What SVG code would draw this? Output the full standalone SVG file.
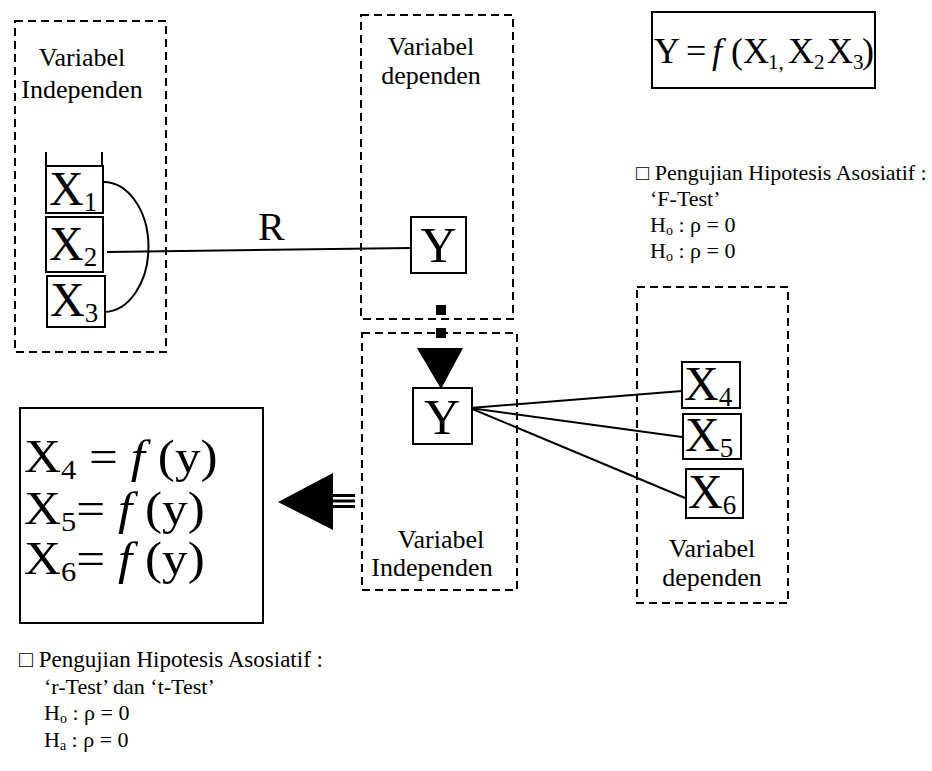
<svg xmlns="http://www.w3.org/2000/svg" width="932" height="771" viewBox="0 0 932 771">
<style>
text{font-family:"Liberation Serif","Times New Roman",serif;fill:#000}
.lbl{font-size:26px;text-anchor:middle}
.big{font-size:48px}
.sub{font-size:27px}
.note{font-size:22px}
.dash{fill:none;stroke:#000;stroke-width:2;stroke-dasharray:8 5}
.box{fill:#fff;stroke:#000;stroke-width:2}
.ln{fill:none;stroke:#000;stroke-width:2}
</style>
<rect width="932" height="771" fill="#fff"/>

<g id="group-independen-left">
<rect class="dash" x="15" y="21" width="151" height="331"/>
<text class="lbl" x="82" y="66">Variabel</text>
<text class="lbl" x="82" y="98">Independen</text>
</g>

<g id="group-dependen-top">
<rect class="dash" x="361" y="15" width="152" height="304"/>
<text class="lbl" x="431" y="55">Variabel</text>
<text class="lbl" x="431" y="84">dependen</text>
</g>

<g id="group-independen-mid">
<rect class="dash" x="362" y="333" width="155" height="257"/>
<text class="lbl" x="441" y="548">Variabel</text>
<text class="lbl" x="432" y="576">Independen</text>
</g>

<g id="group-dependen-right">
<rect class="dash" x="637" y="287" width="151" height="316"/>
<text class="lbl" x="712" y="557">Variabel</text>
<text class="lbl" x="712" y="586">dependen</text>
</g>

<g id="connectors">
<path class="ln" d="M103,182 A45,65 0 0 1 104,312"/>
<line class="ln" x1="107" y1="252" x2="411" y2="248"/>
<text x="258" y="240" style="font-size:40px">R</text>
<rect x="436" y="305" width="10" height="10"/>
<rect x="436" y="328" width="10" height="10"/>
<polygon points="417,348 463,348 441,389"/>
<line class="ln" x1="470" y1="408" x2="682" y2="391"/>
<line class="ln" x1="470" y1="408" x2="682" y2="437"/>
<line class="ln" x1="470" y1="408" x2="685" y2="498"/>
<polygon points="278,502 333,473 333,530"/>
<rect x="333" y="494" width="22" height="3"/>
<rect x="333" y="499.5" width="22" height="3"/>
<rect x="333" y="505" width="22" height="3"/>
</g>

<g id="node-x1">
<line class="ln" x1="46" y1="152" x2="46" y2="166"/>
<line class="ln" x1="102" y1="152" x2="102" y2="166"/>
<rect class="box" x="46" y="166" width="57" height="47"/>
<text class="big" x="49" y="205">X<tspan class="sub" dy="6">1</tspan></text>
</g>
<g id="node-x2">
<rect class="box" x="46" y="217" width="57" height="55"/>
<text class="big" x="49" y="260">X<tspan class="sub" dy="6">2</tspan></text>
</g>
<g id="node-x3">
<rect class="box" x="47" y="276" width="58" height="51"/>
<text class="big" x="50" y="316">X<tspan class="sub" dy="6">3</tspan></text>
</g>

<g id="node-y-top">
<rect class="box" x="411" y="217" width="55" height="56"/>
<text class="big" x="438.5" y="262" text-anchor="middle" style="font-size:50px">Y</text>
</g>

<g id="node-y-mid">
<rect class="box" x="413" y="388" width="59" height="56"/>
<text class="big" x="442" y="434" text-anchor="middle" style="font-size:50px">Y</text>
</g>

<g id="node-x4">
<rect class="box" x="682" y="362" width="58" height="46"/>
<text class="big" x="684" y="400">X<tspan class="sub" dy="6">4</tspan></text>
</g>
<g id="node-x5">
<rect class="box" x="683" y="414" width="58" height="45"/>
<text class="big" x="685" y="451">X<tspan class="sub" dy="6">5</tspan></text>
</g>
<g id="node-x6">
<rect class="box" x="686" y="469" width="57" height="49"/>
<text class="big" x="688" y="508">X<tspan class="sub" dy="6">6</tspan></text>
</g>

<g id="eq-top">
<rect class="box" x="652" y="12" width="223" height="76"/>
<text y="63" style="font-size:36px"><tspan x="654">Y</tspan><tspan x="686">=</tspan><tspan x="712" font-style="italic">f</tspan><tspan x="731">(X</tspan><tspan x="768" dy="6" style="font-size:21px">1,</tspan><tspan x="788" dy="-6">X</tspan><tspan x="814" dy="6" style="font-size:21px">2</tspan><tspan x="827" dy="-6">X</tspan><tspan x="853" dy="6" style="font-size:21px">3</tspan><tspan x="862" dy="-6">)</tspan></text>
</g>

<g id="eq-bottom">
<rect class="box" x="20" y="408" width="243" height="215"/>
<text transform="translate(24,472) scale(1.09,1)" style="font-size:47px">X<tspan style="font-size:28px" dy="7">4</tspan><tspan dy="-7"> = </tspan><tspan font-style="italic">f</tspan> (y)</text>
<text transform="translate(24,524) scale(1.09,1)" style="font-size:47px">X<tspan style="font-size:28px" dy="7">5</tspan><tspan dy="-7">= </tspan><tspan font-style="italic">f</tspan> (y)</text>
<text transform="translate(24,574) scale(1.09,1)" style="font-size:47px">X<tspan style="font-size:28px" dy="7">6</tspan><tspan dy="-7">= </tspan><tspan font-style="italic">f</tspan> (y)</text>
</g>

<g id="note-top">
<text class="note" x="636" y="180">□ Pengujian Hipotesis Asosiatif :</text>
<text class="note" x="650" y="206">‘F-Test’</text>
<text class="note" x="650" y="232">H<tspan style="font-size:14px" dy="3">o</tspan><tspan dy="-3"> : ρ  = 0</tspan></text>
<text class="note" x="650" y="258">H<tspan style="font-size:14px" dy="3">o</tspan><tspan dy="-3"> : ρ  = 0</tspan></text>
</g>

<g id="note-bottom">
<text class="note" x="19" y="667" style="font-size:23px">□ Pengujian Hipotesis Asosiatif :</text>
<text class="note" x="44" y="694">‘r-Test’ dan ‘t-Test’</text>
<text class="note" x="44" y="720">H<tspan style="font-size:14px" dy="3">o</tspan><tspan dy="-3"> : ρ  = 0</tspan></text>
<text class="note" x="44" y="747">H<tspan style="font-size:14px" dy="3">a</tspan><tspan dy="-3"> : ρ  = 0</tspan></text>
</g>
</svg>
